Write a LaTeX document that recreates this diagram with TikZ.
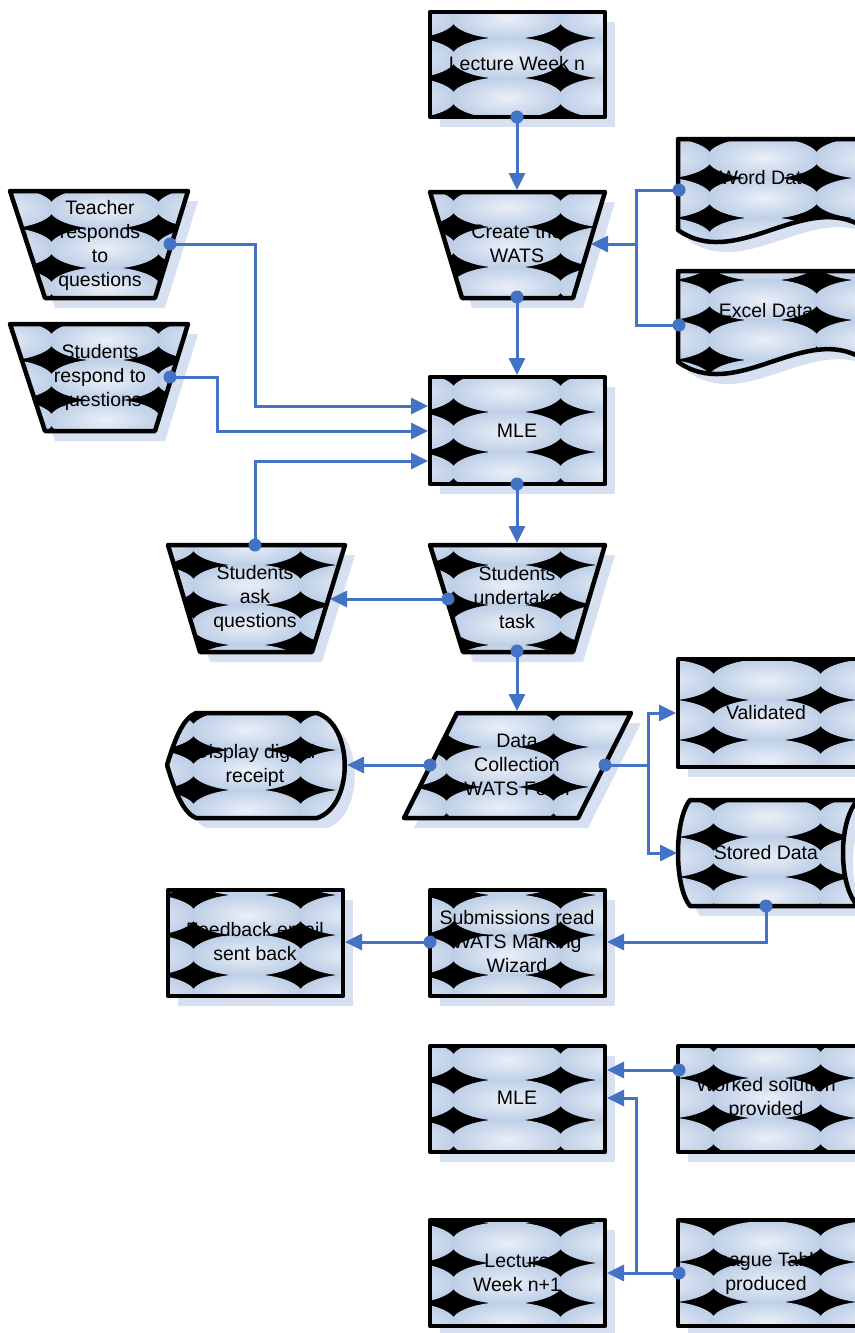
\documentclass[tikz,border=0pt]{standalone}
\usepackage{fontspec}
\setmainfont{Liberation Sans}
\usetikzlibrary{arrows.meta}
\definecolor{connc}{RGB}{68,114,196}
\definecolor{shadowc}{RGB}{214,224,241}
\definecolor{ellout}{RGB}{184,203,228}
\definecolor{ellin}{RGB}{234,239,248}
\pgfdeclareradialshading{ellsh}{\pgfpoint{0bp}{0bp}}{color(0bp)=(ellin); color(28bp)=(ellout); color(50bp)=(ellout)}
\newcommand\pshape[3]{%
  \fill[shadowc,shift={(10,10)}] #1;
  \begin{scope}
    \clip #1;
    \fill[black] (#2-260,#3-100) rectangle (#2+260,#3+200);
    \foreach \i in {-2,...,2}{\foreach \j in {-1,...,3}{
      \shade[shading=ellsh] ({#2+107*\i},{#3+40*\j}) ellipse [x radius=56pt,y radius=21pt];}}
  \end{scope}
  \draw[line width=4.5pt,line join=round] #1;
}
\tikzset{
  txt/.style={align=center,inner sep=0pt,font=\fontsize{19.5}{24}\selectfont},
  conn/.style={draw=connc,line width=3pt},
  arr/.style={-{Triangle[length=17pt,width=16pt]}},
  dot/.style={fill=connc}
}
\begin{document}
\begin{tikzpicture}[x=1pt,y=-1pt]
\useasboundingbox (0,0) rectangle (854,1333);
\fill[white] (0,0) rectangle (854,1333);
% shapes
\pshape{(430,12) rectangle (605,117)}{507}{18}
\pshape{(430,192) -- (605,192) -- (573,298) -- (462,298) -- cycle}{507}{207}
\pshape{(678,139) -- (858,139) -- (858,224) .. controls (800,195) and (735,270) .. (678,230) -- cycle}{763}{158}
\pshape{(678,271) -- (858,271) -- (858,356) .. controls (800,327) and (735,402) .. (678,362) -- cycle}{763}{300}
\pshape{(10,191) -- (188,191) -- (155,298) -- (45,298) -- cycle}{105}{208}
\pshape{(10,324) -- (188,324) -- (155,431) -- (45,431) -- cycle}{105}{340}
\pshape{(430,377) rectangle (605,484)}{507}{392}
\pshape{(168,545) -- (345,545) -- (312,652) -- (200,652) -- cycle}{247}{545}
\pshape{(430,545) -- (605,545) -- (573,652) -- (463,652) -- cycle}{507}{545}
\pshape{(457,713) -- (631,713) -- (578,818) -- (404,818) -- cycle}{500}{727}
\pshape{(167,765) .. controls (176,735) and (184,718) .. (196,713) -- (317,713) .. controls (354,725) and (354,806) .. (317,818) -- (196,818) .. controls (184,813) and (176,795) .. (167,765) -- cycle}{247}{730}
\pshape{(678,659) rectangle (858,767)}{767}{680}
\pshape{(690,800) -- (858,800) .. controls (838,820) and (838,886) .. (858,906) -- (690,906) .. controls (674,886) and (674,820) .. (690,800) -- cycle}{767}{817}
\pshape{(430,890) rectangle (605,996)}{507}{915}
\pshape{(168,890) rectangle (343,996)}{247}{915}
\pshape{(430,1046) rectangle (605,1152)}{507}{1060}
\pshape{(678,1046) rectangle (858,1152)}{767}{1058}
\pshape{(430,1220) rectangle (605,1326)}{507}{1203}
\pshape{(678,1220) rectangle (858,1326)}{767}{1242}
% texts
\node[txt] (lw) at (517,64) {Lecture Week n};
\node[txt] (cr) at (517,244) {Create the\\WATS};
\node[txt] (wd) at (766,178) {Word Data};
\node[txt] (ex) at (766,311) {Excel Data};
\node[txt] (te) at (100,245) {Teacher\\responds\\to\\questions};
\node[txt] (sr) at (100,377) {Students\\respond to\\questions};
\node[txt] (m1) at (517,431) {MLE};
\node[txt] (sa) at (255,598) {Students\\ask\\questions};
\node[txt] (su) at (517,598) {Students\\undertake\\task};
\node[txt] (dc) at (517,765) {Data\\Collection\\WATS Form};
\node[txt] (di) at (255,765) {Display digital\\receipt};
\node[txt] (va) at (766,713) {Validated};
\node[txt] (st) at (766,853) {Stored Data};
\node[txt] (sb) at (517,942) {Submissions read\\WATS Marking\\Wizard};
\node[txt] (fb) at (255,942) {Feedback email\\sent back};
\node[txt] (m2) at (517,1098) {MLE};
\node[txt] (wk) at (766,1098) {Worked solution\\provided};
\node[txt] (l1) at (517,1273) {Lecture\\Week n+1};
\node[txt] (lg) at (766,1273) {League Table\\produced};
% connector points
\coordinate (lw-b) at (517,117);
\coordinate (cr-t) at (517,190);
\coordinate (cr-b) at (517,297);
\coordinate (m1-t) at (517,375);
\coordinate (wd-l) at (679,190);
\coordinate (ex-l) at (679,325);
\coordinate (cr-r) at (591,244);
\coordinate (jn1) at (636,244);
\coordinate (te-r) at (170,244);
\coordinate (te-k) at (255,244);
\coordinate (m1-l1) at (428,406);
\coordinate (sr-r) at (170,377);
\coordinate (sr-k) at (217,377);
\coordinate (m1-l2) at (428,431);
\coordinate (sa-t) at (255,545);
\coordinate (m1-l3) at (428,461);
\coordinate (m1-b) at (517,484);
\coordinate (su-t) at (517,543);
\coordinate (su-l) at (448,599);
\coordinate (sa-r) at (330,599);
\coordinate (su-b) at (517,651);
\coordinate (dc-t) at (517,711);
\coordinate (dc-l) at (430,765);
\coordinate (di-r) at (347,765);
\coordinate (dc-r) at (605,765);
\coordinate (dc-k) at (648,765);
\coordinate (va-l) at (676,713);
\coordinate (st-l) at (677,853);
\coordinate (st-b) at (766,906);
\coordinate (sb-r) at (607,942);
\coordinate (sb-l) at (430,942);
\coordinate (fb-r) at (345,942);
\coordinate (wk-l) at (679,1070);
\coordinate (m2-r1) at (607,1070);
\coordinate (lg-l) at (679,1273);
\coordinate (lg-k) at (636,1273);
\coordinate (l1-r) at (607,1273);
\coordinate (m2-r2) at (607,1098);
% connectors
\draw[conn,arr] (lw-b) -- (cr-t);
\draw[conn,arr] (cr-b) -- (m1-t);
\draw[conn] (wd-l) -| (jn1);
\draw[conn] (ex-l) -| (jn1);
\draw[conn,arr] (jn1) -- (cr-r);
\draw[conn,arr] (te-r) -- (te-k) |- (m1-l1);
\draw[conn,arr] (sr-r) -- (sr-k) |- (m1-l2);
\draw[conn,arr] (sa-t) |- (m1-l3);
\draw[conn,arr] (m1-b) -- (su-t);
\draw[conn,arr] (su-l) -- (sa-r);
\draw[conn,arr] (su-b) -- (dc-t);
\draw[conn,arr] (dc-l) -- (di-r);
\draw[conn,arr] (dc-r) -- (dc-k) |- (va-l);
\draw[conn,arr] (dc-k) |- (st-l);
\draw[conn,arr] (st-b) |- (sb-r);
\draw[conn,arr] (sb-l) -- (fb-r);
\draw[conn,arr] (wk-l) -- (m2-r1);
\draw[conn,arr] (lg-l) -- (l1-r);
\draw[conn,arr] (lg-k) |- (m2-r2);
% dots
\foreach \p in {lw-b,cr-b,wd-l,ex-l,te-r,sr-r,sa-t,m1-b,su-l,su-b,dc-l,dc-r,st-b,sb-l,wk-l,lg-l}
  \fill[dot] (\p) circle [radius=6.5pt];
\end{tikzpicture}
\end{document}
